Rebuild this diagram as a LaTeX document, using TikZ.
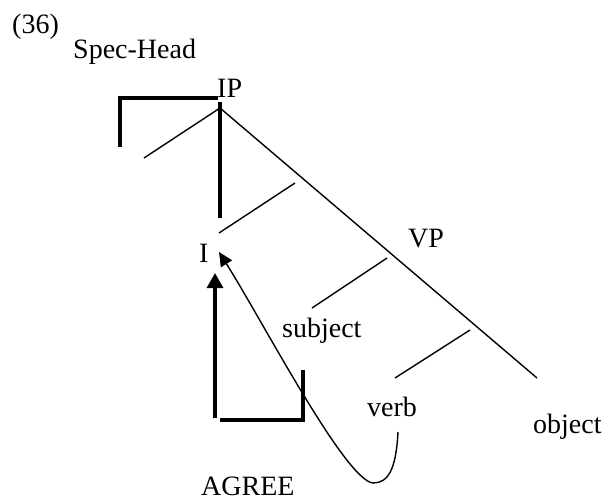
\documentclass[tikz,border=0pt]{standalone}
\usepackage{fontspec}
\setmainfont{Liberation Serif}
\usetikzlibrary{arrows.meta}
\tikzset{
  lab/.style={anchor=base west,inner sep=0pt,font=\fontsize{28}{30}\selectfont},
  thinbr/.style={line width=1.4pt,draw=black},
  boldbr/.style={line width=3.2pt,draw=black},
  agrarr/.style={-{Triangle[length=15pt,width=16pt]},line width=3.2pt,draw=black},
  movarr/.style={-{Triangle[length=14pt,width=13pt]},line width=1.4pt,draw=black},
}
\begin{document}
\begin{tikzpicture}[x=1pt,y=-1pt]
  \useasboundingbox (0,0) rectangle (610,499);
  \node[lab] (ex) at (12,33) {(36)};
  \node[lab] (spec) at (73,58) {Spec-Head};
  \node[lab] (ip) at (217,97) {IP};
  \node[lab] (infl) at (199,262) {I};
  \node[lab] (vp) at (408,247) {VP};
  \node[lab] (subj) at (282,337) {subject};
  \node[lab] (verb) at (367,416) {verb};
  \node[lab] (obj) at (533,433) {object};
  \node[lab] (agree) at (201,495) {AGREE};
  % tree branches
  \coordinate (iptop) at (220,108);
  \coordinate (specl) at (144,158);
  \coordinate (ibar) at (295,183);
  \coordinate (ilow) at (219,233);
  \coordinate (vptop) at (387,258);
  \coordinate (subjl) at (312,308);
  \coordinate (vbar) at (470,330);
  \coordinate (verbl) at (395,378);
  \coordinate (objl) at (537,378);
  \foreach \a/\b in {iptop/specl,iptop/objl,ibar/ilow,vptop/subjl,vbar/verbl} \draw[thinbr] (\a) -- (\b);
  % spec-head relation
  \coordinate (sbot) at (120,147);
  \coordinate (scor) at (120,98);
  \coordinate (send) at (218,98);
  \coordinate (htop) at (220,102);
  \coordinate (hbot) at (220,218);
  \draw[boldbr,line join=miter] (sbot) -- (scor) -- (send);
  \draw[boldbr] (htop) -- (hbot);
  % agree
  \coordinate (abot) at (215,418);
  \coordinate (atip) at (215,273);
  \coordinate (aleft) at (220,420);
  \coordinate (acor) at (303,420);
  \coordinate (atop) at (303,370);
  \draw[agrarr] (abot) -- (atip);
  \draw[boldbr,line join=miter] (aleft) -- (acor) -- (atop);
  % verb movement
  \coordinate (vstart) at (398,432);
  \coordinate (vlow) at (373,483);
  \coordinate (iend) at (219,252);
  \draw[movarr] (vstart) .. controls (396,470) and (388,483) .. (vlow)
    .. controls (345,480) and (262,320) .. (iend);
\end{tikzpicture}
\end{document}
